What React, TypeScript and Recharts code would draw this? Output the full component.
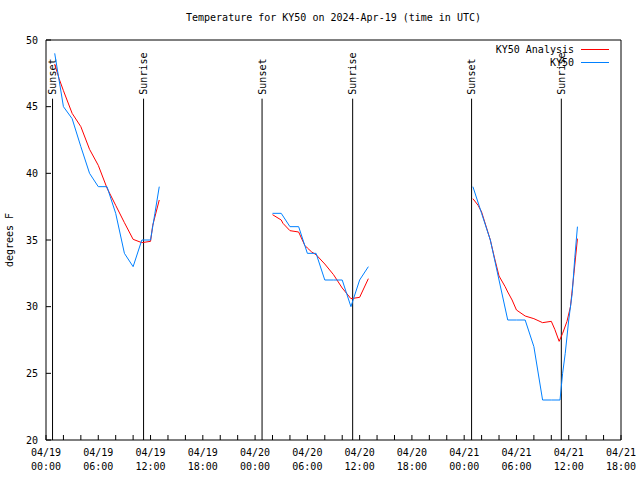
import React from 'react';
import { LineChart, Line, XAxis, YAxis, ReferenceLine, Legend } from 'recharts';

const TITLE = 'Temperature for KY50 on 2024-Apr-19 (time in UTC)';
const Y_LABEL = 'degrees F';
const ANALYSIS_NAME = 'KY50 Analysis';
const OBS_NAME = 'KY50';

// KY50 Analysis (red), hours since 04/19 00:00 UTC
const anaHours1 = [1, 1.5, 2, 3, 4, 5, 6, 7, 8, 9, 10, 11, 12, 12.25, 13];
const anaTemps1 = [48.2, 47.1, 46.2, 44.5, 43.5, 41.8, 40.6, 38.9, 37.6, 36.3, 35.05, 34.8, 34.9, 36.1, 38.0];
const anaHours2 = [26, 27, 27.2, 28, 29, 29.7, 30, 30.5, 31, 32, 33, 34, 35, 36, 37];
const anaTemps2 = [36.9, 36.5, 36.25, 35.7, 35.6, 34.6, 34.4, 34.1, 33.9, 33.2, 32.4, 31.4, 30.6, 30.7, 32.1];
const anaHours3 = [49, 49.6, 50, 51, 51.5, 52, 52.7, 53, 53.5, 54, 55, 56, 57, 58, 58.4, 58.9, 59.3, 59.8, 60.2, 60.6, 61];
const anaTemps3 = [38.1, 37.6, 37.1, 35.0, 33.6, 32.3, 31.5, 31.1, 30.5, 29.75, 29.3, 29.1, 28.8, 28.9, 28.3, 27.4, 28.0, 28.9, 30.0, 32.5, 35.1];

// KY50 observations (blue)
const obsHours1 = [1, 2, 3, 4, 5, 6, 7, 8, 9, 10, 11, 12, 12.5, 13];
const obsTemps1 = [49, 45, 44.1, 42, 40, 39, 39, 37, 34, 33, 35, 35, 37, 39];
const obsHours2 = [26, 27, 28, 29, 30, 31, 32, 33, 34, 35, 36, 37];
const obsTemps2 = [37, 37, 36, 36, 34, 34, 32, 32, 32, 30, 32, 33];
const obsHours3 = [49, 50, 51, 52, 53, 54, 55, 56, 57, 58, 59, 59.3, 59.6, 60, 60.4, 60.7, 61];
const obsTemps3 = [39, 37, 35, 32, 29, 29, 29, 27, 23, 23, 23, 25, 26.5, 29, 31, 33.7, 36];

const sunsetHours = [0.75, 24.8, 48.85];
const sunriseHours = [11.2, 35.2, 59.15];

const xTicks = [0, 2, 4, 6, 8, 10, 12, 14, 16, 18, 20, 22, 24, 26, 28, 30, 32, 34, 36, 38, 40, 42, 44, 46, 48, 50, 52, 54, 56, 58, 60, 62, 64, 66];
const yTicks = [20, 25, 30, 35, 40, 45, 50];
const X_DOMAIN: [number, number] = [0, 66];
const Y_DOMAIN: [number, number] = [20, 50];
const SUN_LINE_TOP = 45.6;

const FONT = '"DejaVu Sans Mono", "Liberation Mono", monospace';
const RED = '#ff0000';
const BLUE = '#0080ff';

type Pt = { h: number; t: number | null };

function buildSeries(segs: [number[], number[]][]): Pt[] {
  const out: Pt[] = [];
  segs.forEach(([hs, ts], i) => {
    if (i > 0) {
      const prev = segs[i - 1][0];
      out.push({ h: (prev[prev.length - 1] + hs[0]) / 2, t: null });
    }
    hs.forEach((h, j) => out.push({ h, t: ts[j] }));
  });
  return out;
}

const anaData = buildSeries([
  [anaHours1, anaTemps1],
  [anaHours2, anaTemps2],
  [anaHours3, anaTemps3],
]);
const obsData = buildSeries([
  [obsHours1, obsTemps1],
  [obsHours2, obsTemps2],
  [obsHours3, obsTemps3],
]);

const pad = (n: number) => (n < 10 ? '0' + n : '' + n);

const XTick = (props: any) => {
  const { x, y, payload } = props;
  const h = payload.value as number;
  if (h % 6 !== 0) return null;
  const day = 19 + Math.floor(h / 24);
  const hh = h % 24;
  return (
    <text x={x} y={y} textAnchor="middle" fontFamily={FONT} fontSize={10} fill="#000">
      <tspan x={x} dy={9}>{`04/${pad(day)}`}</tspan>
      <tspan x={x} dy={14}>{`${pad(hh)}:00`}</tspan>
    </text>
  );
};

const YTick = (props: any) => {
  const { x, y, payload } = props;
  return (
    <text x={x} y={y} dy={3.5} textAnchor="end" fontFamily={FONT} fontSize={10} fill="#000">
      {payload.value}
    </text>
  );
};

const YLabel = (props: any) => {
  const vb = props.viewBox || { x: 0, y: 40, width: 46, height: 400 };
  const cx = vb.x + 13;
  const cy = vb.y + vb.height / 2;
  return (
    <text x={cx} y={cy} transform={`rotate(-90, ${cx}, ${cy})`} textAnchor="middle" fontFamily={FONT} fontSize={10} fill="#000">
      {Y_LABEL}
    </text>
  );
};

const makeSunLabel = (text: string) => (props: any) => {
  const vb = props.viewBox || { x: 0, y: 0 };
  const ox = vb.x + 3.5;
  const oy = vb.y - 4;
  return (
    <text x={ox} y={oy} transform={`rotate(-90, ${ox}, ${oy})`} textAnchor="start" fontFamily={FONT} fontSize={10} fill="#000">
      {text}
    </text>
  );
};

const LegendBox = () => (
  <div style={{ fontFamily: FONT, fontSize: 10, color: '#000', lineHeight: '13px' }}>
    {[
      { name: ANALYSIS_NAME, color: RED },
      { name: OBS_NAME, color: BLUE },
    ].map((it) => (
      <div key={it.name} style={{ display: 'flex', justifyContent: 'flex-end', alignItems: 'center', height: 13 }}>
        <span>{it.name}</span>
        <span style={{ display: 'inline-block', width: 28, height: 0, borderTop: `1px solid ${it.color}`, marginLeft: 7 }} />
      </div>
    ))}
  </div>
);

export default function App() {
  return (
    <div style={{ position: 'absolute', left: 0, top: 0, width: 640, height: 480, background: '#fff' }}>
      <div
        style={{
          position: 'absolute',
          left: 46,
          width: 575,
          top: 12,
          textAlign: 'center',
          fontFamily: FONT,
          fontSize: 10,
          color: '#000',
          zIndex: 2,
        }}
      >
        {TITLE}
      </div>
      <LineChart width={640} height={480} margin={{ top: 10, right: 0, bottom: 0, left: 0 }}>
        <XAxis
          xAxisId="b"
          dataKey="h"
          type="number"
          domain={X_DOMAIN}
          ticks={xTicks}
          interval={0}
          allowDataOverflow
          height={40}
          tickSize={-5}
          tickMargin={12}
          axisLine={{ stroke: '#000' }}
          tickLine={{ stroke: '#000' }}
          tick={<XTick />}
        />
        <XAxis
          xAxisId="t"
          orientation="top"
          dataKey="h"
          type="number"
          domain={X_DOMAIN}
          ticks={xTicks}
          interval={0}
          allowDataOverflow
          height={30}
          tickSize={-5}
          axisLine={{ stroke: '#000' }}
          tickLine={{ stroke: '#000' }}
          tick={false}
        />
        <YAxis
          yAxisId="l"
          type="number"
          domain={Y_DOMAIN}
          ticks={yTicks}
          interval={0}
          allowDataOverflow
          width={46}
          tickSize={-5}
          tickMargin={13}
          axisLine={{ stroke: '#000' }}
          tickLine={{ stroke: '#000' }}
          tick={<YTick />}
          label={<YLabel />}
        />
        <YAxis
          yAxisId="r"
          orientation="right"
          type="number"
          domain={Y_DOMAIN}
          ticks={yTicks}
          interval={0}
          allowDataOverflow
          width={19}
          tickSize={-5}
          axisLine={{ stroke: '#000' }}
          tickLine={{ stroke: '#000' }}
          tick={false}
        />
        {sunsetHours.map((h) => (
          <ReferenceLine
            key={'ss' + h}
            xAxisId="b"
            yAxisId="l"
            segment={[{ x: h, y: Y_DOMAIN[0] }, { x: h, y: SUN_LINE_TOP }]}
            stroke="#000"
            strokeWidth={1}
            label={makeSunLabel('Sunset')}
          />
        ))}
        {sunriseHours.map((h) => (
          <ReferenceLine
            key={'sr' + h}
            xAxisId="b"
            yAxisId="l"
            segment={[{ x: h, y: Y_DOMAIN[0] }, { x: h, y: SUN_LINE_TOP }]}
            stroke="#000"
            strokeWidth={1}
            label={makeSunLabel('Sunrise')}
          />
        ))}
        <Line
          xAxisId="b"
          yAxisId="l"
          data={anaData}
          dataKey="t"
          name={ANALYSIS_NAME}
          stroke={RED}
          strokeWidth={1}
          dot={false}
          activeDot={false}
          connectNulls={false}
          isAnimationActive={false}
        />
        <Line
          xAxisId="b"
          yAxisId="l"
          data={obsData}
          dataKey="t"
          name={OBS_NAME}
          stroke={BLUE}
          strokeWidth={1}
          dot={false}
          activeDot={false}
          connectNulls={false}
          isAnimationActive={false}
        />
        <Legend
          layout="horizontal"
          verticalAlign="middle"
          align="center"
          wrapperStyle={{ position: 'absolute', top: 43, left: 464, width: 145, height: 26 }}
          content={() => <LegendBox />}
        />
      </LineChart>
    </div>
  );
}
